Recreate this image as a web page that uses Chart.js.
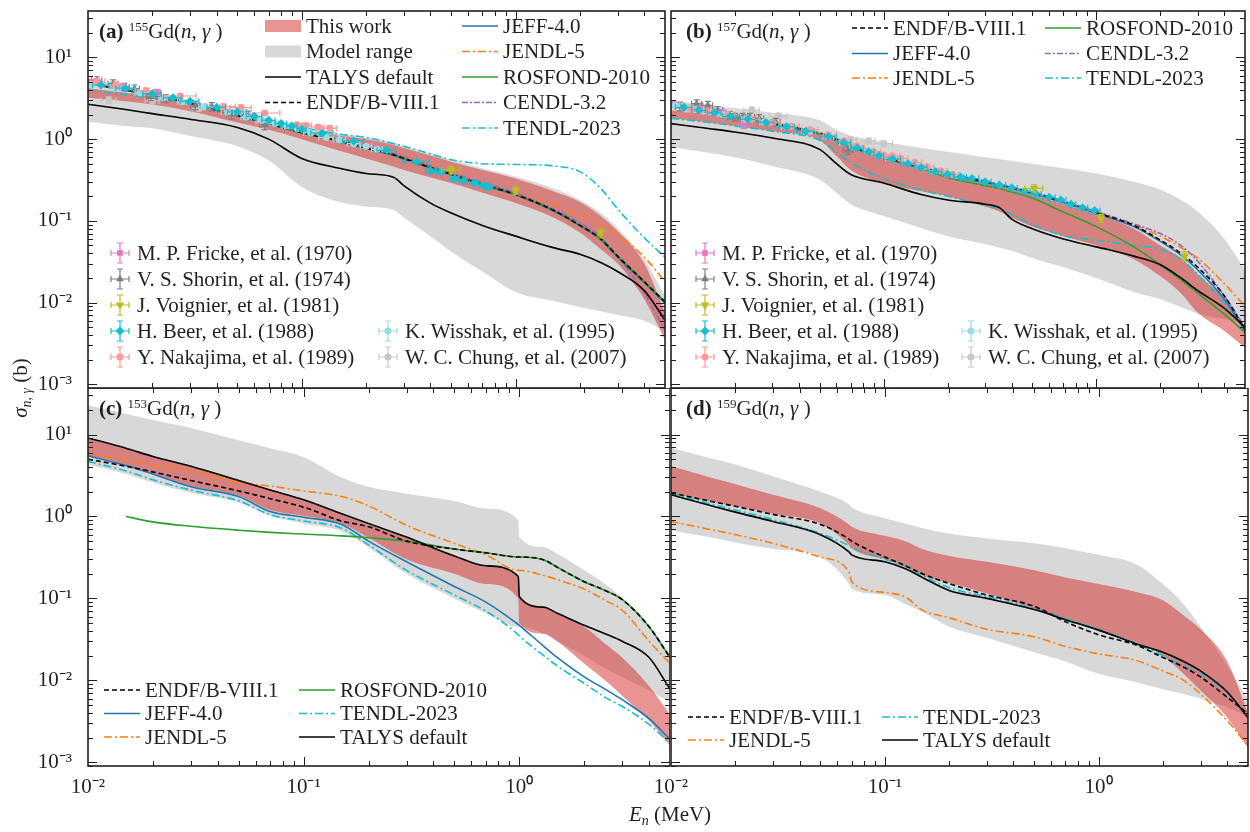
<!DOCTYPE html>
<html>
<head>
<meta charset="utf-8">
<script src="https://cdn.jsdelivr.net/npm/chart.js@4.4.1/dist/chart.umd.min.js"></script>
<style>
  html, body { margin: 0; padding: 0; background: #fff; }
  #wrap { position: relative; width: 1250px; height: 832px; overflow: hidden;
          font-family: "Liberation Serif", "Times New Roman", serif; color: #231f20; }
  #wrap canvas { position: absolute; }
  .ttl { position: absolute; font-size: 21px; line-height: 21px; white-space: nowrap; z-index: 5; }
  .ttl sup { font-size: 13px; vertical-align: 7px; line-height: 0; }
  #ylab { position: absolute; left: 20px; top: 388px; font-size: 21px; white-space: nowrap;
          transform: translate(-50%, -50%) rotate(-90deg); z-index: 5; }
  #xlab { position: absolute; left: 670px; top: 814px; font-size: 21px; white-space: nowrap;
          transform: translate(-50%, -50%); z-index: 5; }
  sub { font-size: 14px; vertical-align: -4px; line-height: 0; }
</style>
</head>
<body>
<div id="wrap">
  <canvas id="pa"></canvas>
  <canvas id="pb"></canvas>
  <canvas id="pc"></canvas>
  <canvas id="pd"></canvas>
  <div class="ttl" style="left:99px;top:21px"><b>(a)</b> <sup>155</sup>Gd(<i>n</i>, <i>γ</i> )</div>
  <div class="ttl" style="left:686px;top:21px"><b>(b)</b> <sup>157</sup>Gd(<i>n</i>, <i>γ</i> )</div>
  <div class="ttl" style="left:99px;top:398px"><b>(c)</b> <sup>153</sup>Gd(<i>n</i>, <i>γ</i> )</div>
  <div class="ttl" style="left:686px;top:398px"><b>(d)</b> <sup>159</sup>Gd(<i>n</i>, <i>γ</i> )</div>
  <div id="ylab"><i>σ</i><sub><i>n</i>, <i>γ</i></sub> (b)</div>
  <div id="xlab"><i>E</i><sub><i>n</i></sub> (MeV)</div>
</div>
<script>
(function () {
    "use strict";

    //------------------------------- data: (a) 155Gd -------------------------------
    var aE       = [0.01, 0.015, 0.02, 0.03, 0.05, 0.07, 0.1, 0.15, 0.2, 0.27, 0.3, 0.4, 0.5, 0.7, 1, 1.5, 2, 2.5, 3, 4, 5];
    var aGrayLo  = [1.63, 1.45, 1.36, 1.1, 0.82, 0.55, 0.26, 0.17, 0.15, 0.135, 0.11, 0.065, 0.042, 0.024, 0.0135, 0.0105, 0.0088, 0.0078, 0.0071, 0.006, 0.0045];
    var aGrayHi  = [4.5, 3.9, 3.5, 2.95, 2.15, 1.75, 1.37, 1.15, 1.05, 0.9, 0.82, 0.66, 0.56, 0.44, 0.35, 0.25, 0.18, 0.125, 0.082, 0.034, 0.012];
    var aRedLo   = [3.2, 2.9, 2.65, 2.2, 1.6, 1.3, 1.0, 0.72, 0.58, 0.46, 0.42, 0.34, 0.29, 0.22, 0.165, 0.11, 0.072, 0.045, 0.03, 0.011, 0.0035];
    var aRedHi   = [4.2, 3.7, 3.35, 2.8, 2.05, 1.65, 1.3, 1.1, 1.0, 0.85, 0.78, 0.63, 0.53, 0.42, 0.33, 0.23, 0.17, 0.115, 0.075, 0.03, 0.0075];
    var aTalys   = [2.67, 2.3, 2.05, 1.75, 1.39, 1.0, 0.58, 0.44, 0.38, 0.34, 0.27, 0.165, 0.125, 0.088, 0.065, 0.047, 0.039, 0.031, 0.024, 0.014, 0.0061];
    var aEndf    = [4.8, 4.0, 3.5, 2.75, 1.95, 1.55, 1.2, 0.95, 0.78, 0.64, 0.58, 0.45, 0.37, 0.28, 0.21, 0.135, 0.088, 0.06, 0.037, 0.018, 0.0102];
    var aJeff    = [4.75, 3.95, 3.45, 2.72, 1.93, 1.53, 1.19, 0.94, 0.77, 0.63, 0.57, 0.44, 0.365, 0.275, 0.207, 0.133, 0.087, 0.059, 0.036, 0.0175, 0.0098];
    var aJendl   = [4.7, 3.95, 3.45, 2.75, 1.95, 1.55, 1.2, 0.95, 0.8, 0.66, 0.6, 0.47, 0.38, 0.29, 0.215, 0.16, 0.12, 0.09, 0.068, 0.036, 0.018];
    var aRosfond = [4.8, 4.0, 3.5, 2.75, 1.95, 1.55, 1.2, 0.95, 0.78, 0.64, 0.58, 0.45, 0.37, 0.28, 0.21, 0.135, 0.088, 0.06, 0.037, 0.018, 0.0102];
    var aCendl   = [4.9, 4.1, 3.6, 2.85, 2.0, 1.6, 1.24, 0.98, 0.81, 0.67, 0.61, 0.47, 0.385, 0.295, 0.22, 0.14, 0.095, 0.063, 0.037, 0.013, 0.0046];
    var aTendl   = [4.0, 3.5, 3.2, 2.7, 2.05, 1.7, 1.4, 1.15, 1.05, 0.88, 0.82, 0.66, 0.56, 0.5, 0.49, 0.47, 0.4, 0.25, 0.14, 0.062, 0.036];

    // measured points: [E, sigma, dE, dSigma]
    var aFricke   = [[0.0102, 5.0, 0.0004, 0.4], [0.0145, 4.4, 0.0006, 0.35], [0.021, 3.75, 0.0008, 0.3]];
    var aShorin   = [[0.011, 5.25, 0.0006, 0.55], [0.0131, 4.8, 0.0007, 0.5], [0.0148, 4.35, 0.0008, 0.45], [0.0165, 4.15, 0.0009, 0.45],
                     [0.0197, 3.3, 0.001, 0.35], [0.0231, 3.15, 0.0012, 0.35], [0.0318, 2.6, 0.0016, 0.3], [0.0379, 2.5, 0.002, 0.3],
                     [0.047, 2.0, 0.0025, 0.25], [0.0563, 1.95, 0.003, 0.25], [0.067, 1.5, 0.0035, 0.2]];
    var aVoignier = [[0.5, 0.42, 0.05, 0.045], [1.0, 0.234, 0.02, 0.025], [2.5, 0.071, 0.05, 0.009]];
    var aBeer     = [[0.0115, 4.6, 0.001, 0.15], [0.015, 4.2, 0.0015, 0.13], [0.02, 3.6, 0.002, 0.11], [0.025, 3.2, 0.0025, 0.1],
                     [0.03, 2.9, 0.003, 0.09], [0.04, 2.45, 0.004, 0.08], [0.05, 2.15, 0.005, 0.07], [0.06, 1.9, 0.005, 0.06],
                     [0.07, 1.7, 0.005, 0.05], [0.08, 1.55, 0.005, 0.05], [0.09, 1.45, 0.005, 0.05], [0.1, 1.32, 0.005, 0.04],
                     [0.125, 1.19, 0.015, 0.04], [0.175, 0.95, 0.02, 0.04], [0.25, 0.73, 0.025, 0.03], [0.344, 0.53, 0.05, 0.02],
                     [0.4, 0.41, 0.02, 0.02], [0.447, 0.4, 0.02, 0.02], [0.52, 0.33, 0.025, 0.015], [0.57, 0.31, 0.025, 0.015],
                     [0.64, 0.29, 0.03, 0.015], [0.71, 0.27, 0.035, 0.015], [0.75, 0.26, 0.035, 0.015]];
    var aNakajima = [[0.011, 5.1, 0.001, 0.4], [0.0135, 4.6, 0.0015, 0.35], [0.0187, 3.9, 0.002, 0.3], [0.027, 3.37, 0.005, 0.25],
                     [0.043, 2.5, 0.006, 0.2], [0.052, 2.43, 0.006, 0.2], [0.067, 2.09, 0.012, 0.15], [0.095, 1.5, 0.006, 0.1],
                     [0.105, 1.47, 0.006, 0.1], [0.119, 1.41, 0.008, 0.1], [0.135, 1.36, 0.01, 0.1]];
    var aWisshak  = [[0.0105, 4.7, 0.0005, 0.2], [0.0135, 4.2, 0.0007, 0.18], [0.0175, 3.7, 0.0009, 0.16], [0.0225, 3.2, 0.001, 0.14],
                     [0.0275, 2.85, 0.0013, 0.12], [0.035, 2.5, 0.002, 0.1], [0.045, 2.15, 0.003, 0.09], [0.055, 1.85, 0.003, 0.08],
                     [0.065, 1.7, 0.003, 0.07], [0.075, 1.55, 0.004, 0.07], [0.085, 1.45, 0.004, 0.06], [0.095, 1.35, 0.005, 0.06],
                     [0.11, 1.2, 0.008, 0.05], [0.13, 1.05, 0.01, 0.05], [0.15, 0.98, 0.01, 0.05], [0.175, 0.88, 0.012, 0.04],
                     [0.2, 0.82, 0.012, 0.04], [0.225, 0.75, 0.013, 0.04]];
    var aChung    = [[0.0125, 3.0, 0.001, 0.3], [0.02, 2.95, 0.0015, 0.25], [0.033, 2.4, 0.002, 0.2], [0.047, 2.1, 0.003, 0.2], [0.065, 1.65, 0.004, 0.15]];

    //------------------------------- data: (b) 157Gd -------------------------------
    var bE       = [0.01, 0.015, 0.02, 0.03, 0.05, 0.06, 0.07, 0.1, 0.15, 0.2, 0.3, 0.35, 0.4, 0.5, 0.7, 1, 1.5, 2, 2.5, 3, 4, 5];
    var bGrayLo  = [0.8, 0.68, 0.6, 0.47, 0.32, 0.22, 0.16, 0.115, 0.082, 0.065, 0.052, 0.047, 0.043, 0.035, 0.027, 0.02, 0.0135, 0.011, 0.0088, 0.0073, 0.0063, 0.0055];
    var bGrayHi  = [3.0, 2.6, 2.4, 2.1, 1.7, 1.3, 1.1, 0.93, 0.78, 0.7, 0.6, 0.57, 0.54, 0.5, 0.44, 0.38, 0.3, 0.24, 0.18, 0.13, 0.06, 0.025];
    var bRedLo   = [1.8, 1.6, 1.45, 1.25, 0.97, 0.62, 0.42, 0.29, 0.23, 0.2, 0.15, 0.13, 0.11, 0.085, 0.065, 0.05, 0.034, 0.021, 0.013, 0.0075, 0.0045, 0.0028];
    var bRedHi   = [2.25, 2.0, 1.8, 1.5, 1.22, 1.05, 0.9, 0.66, 0.45, 0.36, 0.3, 0.28, 0.26, 0.21, 0.16, 0.12, 0.08, 0.05, 0.035, 0.022, 0.011, 0.005];
    var bTalys   = [1.55, 1.35, 1.22, 1.03, 0.75, 0.5, 0.37, 0.29, 0.21, 0.18, 0.16, 0.145, 0.105, 0.08, 0.06, 0.048, 0.037, 0.029, 0.02, 0.014, 0.0085, 0.005];
    var bEndf    = [2.6, 2.15, 1.85, 1.55, 1.17, 0.98, 0.82, 0.6, 0.45, 0.37, 0.3, 0.275, 0.255, 0.22, 0.17, 0.126, 0.088, 0.058, 0.04, 0.027, 0.012, 0.0047];
    var bJeff    = [2.55, 2.1, 1.82, 1.52, 1.15, 0.96, 0.8, 0.59, 0.44, 0.36, 0.295, 0.27, 0.25, 0.215, 0.166, 0.123, 0.085, 0.056, 0.038, 0.025, 0.011, 0.0045];
    var bJendl   = [2.6, 2.15, 1.85, 1.55, 1.17, 0.98, 0.82, 0.6, 0.45, 0.37, 0.3, 0.275, 0.255, 0.22, 0.17, 0.126, 0.09, 0.065, 0.047, 0.035, 0.017, 0.009];
    var bRosfond = [2.6, 2.15, 1.85, 1.55, 1.17, 0.98, 0.82, 0.6, 0.44, 0.34, 0.27, 0.25, 0.225, 0.19, 0.128, 0.085, 0.048, 0.029, 0.019, 0.013, 0.0072, 0.0043];
    var bCendl   = [2.65, 2.2, 1.9, 1.58, 1.19, 1.0, 0.84, 0.61, 0.46, 0.38, 0.31, 0.28, 0.26, 0.225, 0.175, 0.13, 0.092, 0.07, 0.05, 0.032, 0.012, 0.005];
    var bTendl   = [1.8, 1.6, 1.45, 1.25, 0.97, 0.7, 0.52, 0.33, 0.24, 0.2, 0.155, 0.14, 0.12, 0.09, 0.066, 0.058, 0.05, 0.045, 0.034, 0.022, 0.01, 0.0047];

    var bFricke   = [[0.0102, 2.65, 0.0004, 0.2], [0.0135, 2.35, 0.0005, 0.2], [0.0175, 2.1, 0.0007, 0.18], [0.022, 1.5, 0.001, 0.15]];
    var bShorin   = [[0.011, 2.52, 0.0006, 0.3], [0.0132, 2.72, 0.0007, 0.3], [0.0149, 2.6, 0.0008, 0.3], [0.0166, 2.26, 0.0009, 0.25],
                     [0.0189, 1.96, 0.001, 0.22], [0.02, 1.87, 0.001, 0.2], [0.0217, 1.87, 0.0011, 0.2], [0.0235, 1.87, 0.0012, 0.2],
                     [0.026, 1.79, 0.0013, 0.2], [0.031, 1.62, 0.0016, 0.18], [0.068, 0.73, 0.0035, 0.08]];
    var bVoignier = [[0.51, 0.25, 0.05, 0.025], [1.05, 0.108, 0.02, 0.012], [2.6, 0.037, 0.05, 0.005]];
    var bBeer     = [[0.0115, 2.45, 0.001, 0.08], [0.0135, 2.25, 0.001, 0.07], [0.016, 2.1, 0.0012, 0.07], [0.019, 1.9, 0.0015, 0.06],
                     [0.023, 1.75, 0.002, 0.055], [0.028, 1.6, 0.0025, 0.05], [0.035, 1.42, 0.003, 0.045], [0.043, 1.25, 0.004, 0.04],
                     [0.055, 1.08, 0.005, 0.035], [0.065, 0.9, 0.005, 0.03], [0.075, 0.78, 0.005, 0.025], [0.085, 0.7, 0.005, 0.022],
                     [0.095, 0.63, 0.005, 0.02], [0.11, 0.57, 0.01, 0.018], [0.13, 0.5, 0.01, 0.016], [0.15, 0.45, 0.01, 0.015],
                     [0.175, 0.4, 0.0125, 0.013], [0.2, 0.37, 0.0125, 0.012], [0.23, 0.345, 0.015, 0.011], [0.26, 0.33, 0.02, 0.01],
                     [0.3, 0.3, 0.02, 0.01], [0.35, 0.275, 0.025, 0.009], [0.4, 0.255, 0.025, 0.008], [0.46, 0.23, 0.03, 0.008],
                     [0.52, 0.215, 0.03, 0.007], [0.6, 0.195, 0.04, 0.007], [0.68, 0.18, 0.04, 0.006], [0.76, 0.16, 0.04, 0.006],
                     [0.86, 0.145, 0.05, 0.005], [0.98, 0.134, 0.06, 0.005]];
    var bNakajima = [[0.0125, 2.3, 0.001, 0.14], [0.015, 2.2, 0.0012, 0.13], [0.0185, 2.0, 0.0015, 0.12], [0.024, 1.75, 0.002, 0.1],
                     [0.03, 1.6, 0.0025, 0.1], [0.037, 1.45, 0.003, 0.09], [0.045, 1.3, 0.004, 0.08], [0.055, 1.12, 0.005, 0.07],
                     [0.065, 0.95, 0.005, 0.06], [0.075, 0.83, 0.006, 0.05], [0.09, 0.7, 0.007, 0.045], [0.1, 0.64, 0.008, 0.04],
                     [0.11, 0.62, 0.009, 0.04], [0.12, 0.58, 0.01, 0.035], [0.14, 0.52, 0.011, 0.03], [0.16, 0.46, 0.012, 0.03],
                     [0.185, 0.41, 0.014, 0.025], [0.21, 0.37, 0.016, 0.022]];
    var bWisshak  = [[0.0105, 2.6, 0.0005, 0.1], [0.0125, 2.35, 0.0006, 0.09], [0.015, 2.15, 0.0008, 0.08], [0.0175, 2.0, 0.0009, 0.08],
                     [0.0225, 1.75, 0.001, 0.07], [0.0275, 1.62, 0.0013, 0.06], [0.035, 1.42, 0.002, 0.05], [0.045, 1.25, 0.003, 0.05],
                     [0.055, 1.07, 0.003, 0.04], [0.065, 0.9, 0.003, 0.035], [0.075, 0.8, 0.004, 0.03], [0.085, 0.72, 0.004, 0.03],
                     [0.095, 0.66, 0.005, 0.025], [0.11, 0.58, 0.008, 0.02], [0.13, 0.51, 0.01, 0.02], [0.15, 0.46, 0.01, 0.02],
                     [0.175, 0.41, 0.012, 0.016], [0.2, 0.38, 0.012, 0.015], [0.225, 0.36, 0.013, 0.014]];
    var bChung    = [[0.012, 2.4, 0.001, 0.25], [0.016, 2.3, 0.0015, 0.2], [0.024, 2.26, 0.002, 0.2], [0.032, 1.9, 0.003, 0.18],
                     [0.07, 0.98, 0.005, 0.08], [0.085, 0.95, 0.006, 0.08], [0.1, 0.88, 0.01, 0.07]];

    //------------------------------- data: (c) 153Gd -------------------------------
    var cE       = [0.01, 0.015, 0.02, 0.03, 0.05, 0.07, 0.1, 0.15, 0.2, 0.3, 0.5, 0.7, 0.99, 1.0, 1.3, 1.5, 2, 2.5, 3, 4, 5];
    var cGrayLo  = [4.3, 3.3, 2.6, 1.95, 1.48, 1.02, 0.82, 0.66, 0.42, 0.2, 0.1, 0.066, 0.045, 0.045, 0.037, 0.03, 0.02, 0.014, 0.011, 0.0075, 0.0054];
    var cGrayHi  = [22.7, 18, 15, 12, 8.5, 6.8, 5.3, 3.0, 2.3, 1.9, 1.55, 1.25, 0.9, 0.56, 0.42, 0.35, 0.22, 0.15, 0.1, 0.045, 0.021];
    var cRedLo   = [5.6, 4.25, 3.35, 2.35, 1.8, 1.2, 1.02, 0.82, 0.55, 0.3, 0.2, 0.15, 0.1, 0.05, 0.037, 0.03, 0.016, 0.01, 0.0065, 0.0032, 0.0016];
    var cRedHi   = [8.9, 6.7, 5.35, 4.05, 2.75, 2.1, 1.58, 1.06, 0.8, 0.55, 0.33, 0.25, 0.185, 0.11, 0.08, 0.065, 0.045, 0.028, 0.019, 0.0085, 0.0038];
    var cTalys   = [9.1, 6.8, 5.4, 4.1, 2.75, 2.1, 1.6, 1.08, 0.82, 0.56, 0.33, 0.25, 0.185, 0.105, 0.078, 0.066, 0.047, 0.037, 0.03, 0.019, 0.0078];
    var cEndf    = [5.0, 4.1, 3.5, 2.75, 2.05, 1.65, 1.3, 0.88, 0.75, 0.5, 0.4, 0.36, 0.32, 0.32, 0.295, 0.24, 0.16, 0.125, 0.097, 0.045, 0.019];
    var cJeff    = [5.5, 4.2, 3.3, 2.3, 1.75, 1.15, 0.98, 0.8, 0.5, 0.28, 0.14, 0.09, 0.048, 0.047, 0.026, 0.019, 0.011, 0.0078, 0.0058, 0.0034, 0.0019];
    var cJendl   = [5.9, 4.9, 4.3, 3.7, 2.6, 2.35, 2.05, 1.75, 1.35, 0.78, 0.47, 0.34, 0.22, 0.22, 0.19, 0.17, 0.13, 0.095, 0.072, 0.03, 0.016];
    var cRosfond = [null, 1.0, 0.86, 0.76, 0.68, 0.64, 0.61, 0.58, 0.55, 0.5, 0.4, 0.36, 0.32, 0.32, 0.295, 0.24, 0.16, 0.125, 0.097, 0.045, 0.019];
    var cTendl   = [4.7, 3.6, 2.8, 2.1, 1.55, 1.05, 0.88, 0.72, 0.45, 0.22, 0.11, 0.07, 0.036, 0.035, 0.02, 0.015, 0.0092, 0.0062, 0.0048, 0.0029, 0.0017];

    //------------------------------- data: (d) 159Gd -------------------------------
    var dE       = [0.01, 0.015, 0.02, 0.03, 0.05, 0.068, 0.07, 0.1, 0.125, 0.15, 0.2, 0.3, 0.5, 0.7, 1, 1.5, 2, 2.5, 3, 4, 5];
    var dGrayLo  = [0.68, 0.56, 0.48, 0.4, 0.32, 0.15, 0.13, 0.11, 0.085, 0.068, 0.045, 0.033, 0.022, 0.017, 0.012, 0.0095, 0.0078, 0.0068, 0.006, 0.0047, 0.0037];
    var dGrayHi  = [6.9, 5.2, 4.3, 3.1, 2.0, 1.4, 1.3, 0.95, 0.82, 0.72, 0.62, 0.54, 0.47, 0.41, 0.34, 0.26, 0.15, 0.085, 0.045, 0.015, 0.0058];
    var dRedLo   = [1.93, 1.55, 1.34, 1.08, 0.82, 0.45, 0.41, 0.3, 0.24, 0.19, 0.155, 0.115, 0.075, 0.055, 0.04, 0.029, 0.02, 0.012, 0.0075, 0.0035, 0.0015];
    var dRedHi   = [4.1, 3.04, 2.48, 1.84, 1.26, 0.8, 0.75, 0.58, 0.5, 0.4, 0.33, 0.28, 0.22, 0.18, 0.15, 0.12, 0.095, 0.062, 0.042, 0.017, 0.004];
    var dTalys   = [1.84, 1.38, 1.13, 0.87, 0.6, 0.37, 0.34, 0.28, 0.23, 0.18, 0.125, 0.1, 0.073, 0.055, 0.041, 0.028, 0.022, 0.017, 0.013, 0.0072, 0.0035];
    var dEndf    = [1.94, 1.55, 1.33, 1.06, 0.8, 0.53, 0.5, 0.32, 0.25, 0.2, 0.152, 0.11, 0.08, 0.052, 0.036, 0.027, 0.019, 0.0145, 0.011, 0.0062, 0.0039];
    var dJendl   = [0.87, 0.7, 0.6, 0.47, 0.32, 0.21, 0.16, 0.118, 0.104, 0.072, 0.058, 0.042, 0.034, 0.026, 0.021, 0.0175, 0.013, 0.01, 0.0068, 0.0032, 0.0016];
    var dTendl   = [1.9, 1.45, 1.2, 0.92, 0.62, 0.44, 0.42, 0.3, 0.25, 0.19, 0.135, 0.105, 0.075, 0.057, 0.042, 0.028, 0.02, 0.015, 0.012, 0.007, 0.0036];

    //------------------------------- styles -------------------------------
    var INK = "#231f20";
    var RED = "rgba(214, 39, 40, 0.5)";
    var GRAY = "rgba(190, 190, 190, 0.6)";
    var X_MIN = 0.01, X_MAX = 5, Y_MIN = 9e-4, Y_MAX = 37;
    var FONT = '21px "Liberation Serif", "Times New Roman", serif';

    var LINES = {
        endf:    { label: "ENDF/B-VIII.1", color: "#000000", dash: [5, 3],        order: 10 },
        talys:   { label: "TALYS default", color: "#000000", dash: [],            order: 11 },
        rosfond: { label: "ROSFOND-2010",  color: "#2ca02c", dash: [],            order: 12 },
        jeff:    { label: "JEFF-4.0",      color: "#1f77b4", dash: [],            order: 13 },
        cendl:   { label: "CENDL-3.2",     color: "#9467bd", dash: [6, 2, 2, 2],  order: 14 },
        jendl:   { label: "JENDL-5",       color: "#ff7f0e", dash: [8, 3, 2, 3],  order: 15 },
        tendl:   { label: "TENDL-2023",    color: "#17becf", dash: [8, 3, 2, 3],  order: 16 }
    };
    var PATCHES = {
        red:  { label: "This work",   color: RED },
        gray: { label: "Model range", color: "#d8d8d8" }
    };
    var EXPS = {
        fricke:   { label: "M. P. Fricke, et al. (1970)",  color: "#e377c2", style: "rect",     r: 4,   rot: 0,   order: 5 },
        shorin:   { label: "V. S. Shorin, et al. (1974)",  color: "#7f7f7f", style: "triangle", r: 4.5, rot: 0,   order: 6 },
        voignier: { label: "J. Voignier, et al. (1981)",   color: "#bcbd22", style: "triangle", r: 5,   rot: 180, order: 1 },
        beer:     { label: "H. Beer, et al. (1988)",       color: "#17becf", style: "rectRot",  r: 4.5, rot: 0,   order: 2 },
        nakajima: { label: "Y. Nakajima, et al. (1989)",   color: "#ff9896", style: "circle",   r: 3.5, rot: 0,   order: 3 },
        wisshak:  { label: "K. Wisshak, et al. (1995)",    color: "#9edae5", style: "circle",   r: 3.5, rot: 0,   order: 4 },
        chung:    { label: "W. C. Chung, et al. (2007)",   color: "#c7c7c7", style: "circle",   r: 3.5, rot: 0,   order: 7 }
    };

    //------------------------------- dataset helpers -------------------------------
    function pts(E, v) {
        var out = [];
        for (var i = 0; i < E.length; i++) {
            if (v[i] != null) out.push({ x: E[i], y: v[i] });
        }
        return out;
    }
    function curve(key, E, v) {
        var s = LINES[key];
        return { data: pts(E, v), borderColor: s.color, borderWidth: 1.6, borderDash: s.dash,
                 pointRadius: 0, fill: false, cubicInterpolationMode: "monotone", order: s.order };
    }
    function band(E, lo, hi, color, order) {
        return [
            { data: pts(E, lo), borderColor: "rgba(0,0,0,0)", borderWidth: 0, pointRadius: 0,
              fill: false, cubicInterpolationMode: "monotone", order: order },
            { data: pts(E, hi), borderColor: "rgba(0,0,0,0)", borderWidth: 0, pointRadius: 0,
              fill: "-1", backgroundColor: color, cubicInterpolationMode: "monotone", order: order }
        ];
    }
    function meas(key, rows) {
        var s = EXPS[key];
        return { data: rows.map(function (r) { return { x: r[0], y: r[1] }; }),
                 errs: rows.map(function (r) { return [r[2], r[3]]; }),
                 showLine: false, pointStyle: s.style, pointRotation: s.rot, pointRadius: s.r,
                 backgroundColor: s.color, borderColor: s.color, borderWidth: 0, order: s.order };
    }

    //------------------------------- panels -------------------------------
    var EXP_LEGEND = function (c0, c1) {
        return { cols: [c0, c1], rows: [253, 279, 305, 331, 357], items: [
            ["point", "fricke", 0, 0], ["point", "shorin", 0, 1], ["point", "voignier", 0, 2],
            ["point", "beer", 0, 3], ["point", "nakajima", 0, 4], ["point", "wisshak", 1, 3], ["point", "chung", 1, 4]] };
    };

    var SPECS = {
        pa: { left: 0, top: 0, w: 670, h: 400, padding: { left: 0, top: 11, right: 0, bottom: 12 }, showX: false, showY: true,
              datasets: [].concat(band(aE, aGrayLo, aGrayHi, GRAY, 50), band(aE, aRedLo, aRedHi, RED, 40), [
                  curve("tendl", aE, aTendl), curve("jendl", aE, aJendl), curve("cendl", aE, aCendl), curve("jeff", aE, aJeff),
                  curve("rosfond", aE, aRosfond), curve("talys", aE, aTalys), curve("endf", aE, aEndf),
                  meas("chung", aChung), meas("shorin", aShorin), meas("fricke", aFricke), meas("wisshak", aWisshak),
                  meas("nakajima", aNakajima), meas("beer", aBeer), meas("voignier", aVoignier)]),
              legends: [
                  { cols: [265, 462], rows: [26, 51.5, 77, 102.5, 128], items: [
                      ["patch", "red", 0, 0], ["patch", "gray", 0, 1], ["line", "talys", 0, 2], ["line", "endf", 0, 3],
                      ["line", "jeff", 1, 0], ["line", "jendl", 1, 1], ["line", "rosfond", 1, 2], ["line", "cendl", 1, 3], ["line", "tendl", 1, 4]] },
                  EXP_LEGEND(120, 388)] },
        pb: { left: 640, top: 0, w: 610, h: 400, padding: { left: 31, top: 11, right: 2, bottom: 12 }, showX: false, showY: false,
              datasets: [].concat(band(bE, bGrayLo, bGrayHi, GRAY, 50), band(bE, bRedLo, bRedHi, RED, 40), [
                  curve("tendl", bE, bTendl), curve("jendl", bE, bJendl), curve("cendl", bE, bCendl), curve("jeff", bE, bJeff),
                  curve("rosfond", bE, bRosfond), curve("talys", bE, bTalys), curve("endf", bE, bEndf),
                  meas("chung", bChung), meas("shorin", bShorin), meas("fricke", bFricke), meas("wisshak", bWisshak),
                  meas("nakajima", bNakajima), meas("beer", bBeer), meas("voignier", bVoignier)]),
              legends: [
                  { cols: [852, 1045], rows: [28, 53.5, 78], items: [
                      ["line", "endf", 0, 0], ["line", "jeff", 0, 1], ["line", "jendl", 0, 2],
                      ["line", "rosfond", 1, 0], ["line", "cendl", 1, 1], ["line", "tendl", 1, 2]] },
                  EXP_LEGEND(705, 971)] },
        pc: { left: 0, top: 388, w: 670, h: 444, padding: { left: 0, top: 0, right: 0, bottom: 0 }, showX: true, showY: true,
              datasets: [].concat(band(cE, cGrayLo, cGrayHi, GRAY, 50), band(cE, cRedLo, cRedHi, RED, 40), [
                  curve("tendl", cE, cTendl), curve("jendl", cE, cJendl), curve("jeff", cE, cJeff),
                  curve("rosfond", cE, cRosfond), curve("talys", cE, cTalys), curve("endf", cE, cEndf)]),
              legends: [
                  { cols: [104, 299], rows: [690, 713.5, 737], items: [
                      ["line", "endf", 0, 0], ["line", "jeff", 0, 1], ["line", "jendl", 0, 2],
                      ["line", "rosfond", 1, 0], ["line", "tendl", 1, 1], ["line", "talys", 1, 2]] }] },
        pd: { left: 640, top: 388, w: 610, h: 444, padding: { left: 31, top: 0, right: 2, bottom: 0 }, showX: true, showY: false,
              datasets: [].concat(band(dE, dGrayLo, dGrayHi, GRAY, 50), band(dE, dRedLo, dRedHi, RED, 40), [
                  curve("tendl", dE, dTendl), curve("jendl", dE, dJendl), curve("talys", dE, dTalys), curve("endf", dE, dEndf)]),
              legends: [
                  { cols: [688, 882], rows: [717, 740], items: [
                      ["line", "endf", 0, 0], ["line", "jendl", 0, 1], ["line", "tendl", 1, 0], ["line", "talys", 1, 1]] }] }
    };

    //------------------------------- plugins -------------------------------
    function marker(ctx, s, x, y) {
        ctx.fillStyle = s.color;
        if (Chart.helpers && Chart.helpers.drawPoint) {
            Chart.helpers.drawPoint(ctx, { pointStyle: s.style, rotation: s.rot, radius: s.r, borderWidth: 0 }, x, y);
        } else {
            ctx.beginPath(); ctx.arc(x, y, s.r, 0, Math.PI * 2); ctx.fill();
        }
    }
    function errCross(ctx, x0, x1, y0, y1, px, py) {
        ctx.beginPath();
        ctx.moveTo(x0, py); ctx.lineTo(x1, py);
        ctx.moveTo(px, y0); ctx.lineTo(px, y1);
        ctx.moveTo(x0, py - 3); ctx.lineTo(x0, py + 3);
        ctx.moveTo(x1, py - 3); ctx.lineTo(x1, py + 3);
        ctx.moveTo(px - 3, y0); ctx.lineTo(px + 3, y0);
        ctx.moveTo(px - 3, y1); ctx.lineTo(px + 3, y1);
        ctx.stroke();
    }

    var errorBars = {
        id: "errorBars",
        beforeDatasetDraw: function (chart, args) {
            var ds = chart.data.datasets[args.index];
            if (!ds.errs) return;
            var ctx = chart.ctx, ca = chart.chartArea, sx = chart.scales.x, sy = chart.scales.y;
            ctx.save();
            ctx.beginPath(); ctx.rect(ca.left, ca.top, ca.width, ca.height); ctx.clip();
            ctx.strokeStyle = ds.borderColor; ctx.lineWidth = 1.2; ctx.setLineDash([]);
            ds.data.forEach(function (p, i) {
                var e = ds.errs[i];
                errCross(ctx, sx.getPixelForValue(p.x - e[0]), sx.getPixelForValue(p.x + e[0]),
                         sy.getPixelForValue(p.y - e[1]), sy.getPixelForValue(p.y + e[1]),
                         sx.getPixelForValue(p.x), sy.getPixelForValue(p.y));
            });
            ctx.restore();
        }
    };

    var decor = {
        id: "decor",
        afterDraw: function (chart) {
            var spec = SPECS[chart.canvas.id];
            var ctx = chart.ctx, ca = chart.chartArea, sx = chart.scales.x, sy = chart.scales.y;
            ctx.save();
            ctx.setLineDash([]);
            // inward ticks on all four sides
            ctx.strokeStyle = INK; ctx.lineWidth = 1;
            ctx.beginPath();
            for (var k = -4; k <= 2; k++) {
                for (var m = 1; m <= 9; m++) {
                    var v = m * Math.pow(10, k), len = m === 1 ? 9 : 5;
                    if (v > X_MIN * 1.0001 && v < X_MAX * 0.9999) {
                        var px = Math.round(sx.getPixelForValue(v)) + 0.5;
                        ctx.moveTo(px, ca.bottom); ctx.lineTo(px, ca.bottom - len);
                        ctx.moveTo(px, ca.top); ctx.lineTo(px, ca.top + len);
                    }
                    if (v > Y_MIN && v < Y_MAX) {
                        var py = Math.round(sy.getPixelForValue(v)) + 0.5;
                        ctx.moveTo(ca.left, py); ctx.lineTo(ca.left + len, py);
                        ctx.moveTo(ca.right, py); ctx.lineTo(ca.right - len, py);
                    }
                }
            }
            ctx.stroke();
            ctx.lineWidth = 1.6;
            ctx.strokeRect(ca.left, ca.top, ca.width, ca.height);

            // legends (page coords -> canvas coords)
            ctx.font = FONT; ctx.textBaseline = "middle"; ctx.textAlign = "left";
            spec.legends.forEach(function (lg) {
                lg.items.forEach(function (it) {
                    var kind = it[0], key = it[1];
                    var x = lg.cols[it[2]] - spec.left, y = lg.rows[it[3]] - spec.top;
                    var label, tx;
                    if (kind === "patch") {
                        ctx.fillStyle = PATCHES[key].color;
                        ctx.fillRect(x, y - 6, 36, 12);
                        label = PATCHES[key].label; tx = x + 41;
                    } else if (kind === "line") {
                        var s = LINES[key];
                        ctx.strokeStyle = s.color; ctx.lineWidth = 1.6; ctx.setLineDash(s.dash);
                        ctx.beginPath(); ctx.moveTo(x, y); ctx.lineTo(x + 36, y); ctx.stroke();
                        ctx.setLineDash([]);
                        label = s.label; tx = x + 41;
                    } else {
                        var e = EXPS[key];
                        ctx.strokeStyle = e.color; ctx.lineWidth = 1.2;
                        errCross(ctx, x - 9, x + 9, y - 10, y + 10, x, y);
                        marker(ctx, e, x, y);
                        label = e.label; tx = x + 17;
                    }
                    ctx.fillStyle = INK;
                    ctx.fillText(label, tx, y + 1);
                });
            });
            ctx.restore();
        }
    };

    //------------------------------- axis labels -------------------------------
    var SUP = { "-": "\u207b", "0": "\u2070", "1": "\u00b9", "2": "\u00b2", "3": "\u00b3" };
    function decadeLabel(v) {
        var e = Math.log10(v), r = Math.round(e);
        if (Math.abs(e - r) > 1e-6) return null;
        return "10" + String(r).split("").map(function (c) { return SUP[c]; }).join("");
    }

    function makeChart(id) {
        var spec = SPECS[id];
        var el = document.getElementById(id);
        el.width = spec.w; el.height = spec.h;
        el.style.left = spec.left + "px"; el.style.top = spec.top + "px";
        var tickFont = { family: '"Liberation Serif", "Times New Roman", serif', size: 21 };
        var xAxis = {
            type: "logarithmic", min: X_MIN, max: X_MAX, display: spec.showX,
            grid: { display: false, drawTicks: false }, border: { display: false },
            ticks: { autoSkip: false, maxRotation: 0, padding: 9, font: tickFont, color: INK, callback: decadeLabel }
        };
        var yAxis = {
            type: "logarithmic", min: Y_MIN, max: Y_MAX, display: spec.showY,
            grid: { display: false, drawTicks: false }, border: { display: false },
            ticks: { autoSkip: false, padding: 16, font: tickFont, color: INK, callback: decadeLabel }
        };
        // fixed axis sizes only for the axes that are shown
        if (spec.showX) xAxis.afterFit = function (s) { s.height = 66; };
        if (spec.showY) yAxis.afterFit = function (s) { s.width = 88; s.paddingTop = 0; s.paddingBottom = 0; };
        return new Chart(el.getContext("2d"), {
            type: "line",
            data: { datasets: spec.datasets },
            options: {
                responsive: false, animation: false, events: [], devicePixelRatio: 1,
                layout: { padding: spec.padding },
                plugins: { legend: { display: false }, tooltip: { enabled: false } },
                scales: { x: xAxis, y: yAxis }
            },
            plugins: [errorBars, decor]
        });
    }

    ["pa", "pb", "pc", "pd"].forEach(makeChart);
})();
</script>
</body>
</html>
